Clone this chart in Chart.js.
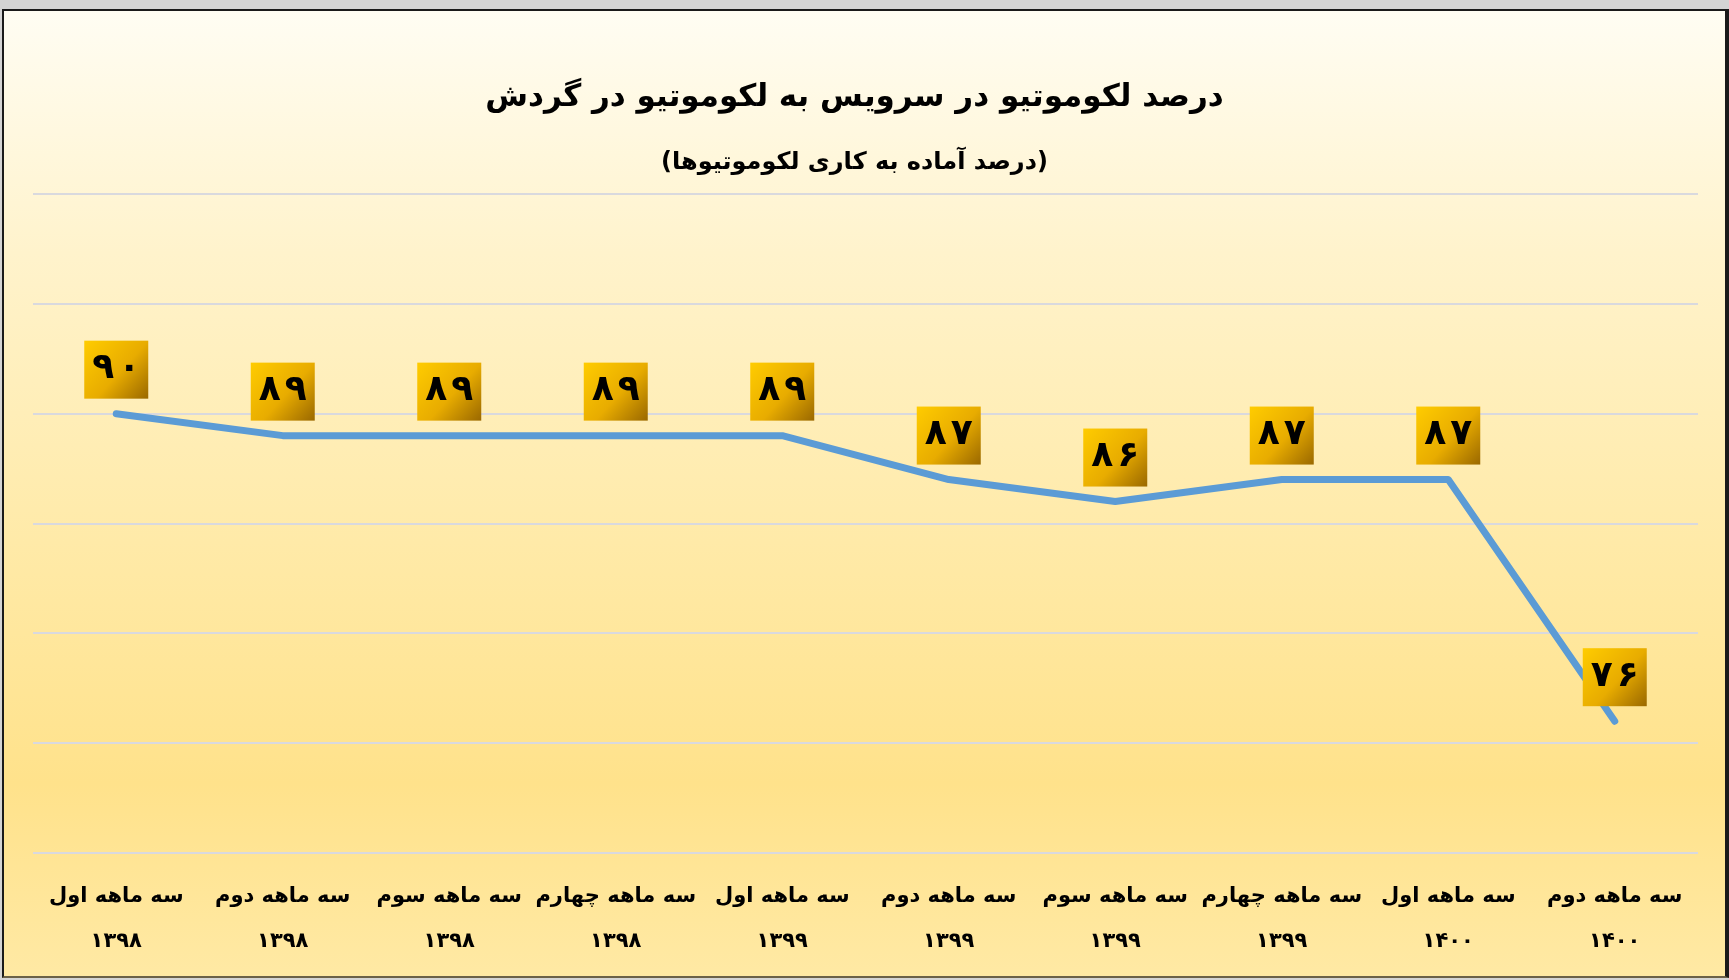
<!DOCTYPE html>
<html>
<head>
<meta charset="utf-8">
<script src="https://cdn.jsdelivr.net/npm/chart.js@4"></script>
<style>
  html, body { margin: 0; padding: 0; background: #d4d4d4; overflow: hidden; }
  #frame {
    position: absolute; left: 2px; top: 9px; width: 1721px; height: 965px;
    border: 2px solid #1a1a1a; border-right-width: 4px; border-bottom-color: #6b6148;
    background: linear-gradient(to bottom, #fffdf3 0%, #fff3cc 25%, #ffeaa8 55%, #ffe28b 80%, #ffe9a4 100%);
  }
  #chart { position: absolute; left: 0; top: 0; }
</style>
</head>
<body>
<div id="frame"></div>
<canvas id="chart" width="1729" height="980"></canvas>
<script>
'use strict';

const title    = 'درصد لکوموتیو در سرویس به لکوموتیو در گردش';
const subtitle = '(درصد آماده به کاری لکوموتیوها)';
const quarters = ['سه ماهه اول', 'سه ماهه دوم', 'سه ماهه سوم', 'سه ماهه چهارم', 'سه ماهه اول',
                  'سه ماهه دوم', 'سه ماهه سوم', 'سه ماهه چهارم', 'سه ماهه اول', 'سه ماهه دوم'];
const years    = ['۱۳۹۸', '۱۳۹۸', '۱۳۹۸', '۱۳۹۸', '۱۳۹۹', '۱۳۹۹', '۱۳۹۹', '۱۳۹۹', '۱۴۰۰', '۱۴۰۰'];
const readiness = [90, 89, 89, 89, 89, 87, 86, 87, 87, 76];
const yTicks   = [70, 75, 80, 85, 90, 95, 100];

const FONT = "'DejaVu Sans'";

const toFa = n => String(n).replace(/\d/g, d => '۰۱۲۳۴۵۶۷۸۹'[d]);

const valueBoxes = {
  id: 'valueBoxes',
  afterDatasetsDraw(chart) {
    const ctx = chart.ctx;
    chart.getDatasetMeta(0).data.forEach((pt, i) => {
      const w = 64, h = 58;
      const x = pt.x - w / 2, y = pt.y - 15 - h;
      const g = ctx.createLinearGradient(x, y, x + w, y + h);
      g.addColorStop(0, '#ffcc00');
      g.addColorStop(0.55, '#e8ac00');
      g.addColorStop(1, '#9a6800');
      ctx.save();
      ctx.fillStyle = g;
      ctx.fillRect(x, y, w, h);
      ctx.fillStyle = '#000';
      ctx.font = `bold 36px ${FONT}`;
      ctx.textAlign = 'center';
      ctx.textBaseline = 'middle';
      const digits = toFa(readiness[i]).split('');
      digits.forEach((d, k) => ctx.fillText(d, pt.x + (k - (digits.length - 1) / 2) * 26, y + h / 2 - 1));
      ctx.restore();
    });
  }
};

new Chart(document.getElementById('chart'), {
  type: 'line',
  data: {
    labels: quarters.map((q, i) => [q, years[i]]),
    datasets: [{
      data: readiness,
      borderColor: '#5b9bd5',
      borderWidth: 7,
      borderCapStyle: 'round',
      borderJoinStyle: 'round',
      pointRadius: 0,
      tension: 0,
      clip: false
    }]
  },
  options: {
    responsive: false,
    animation: false,
    layout: { padding: { left: 0, right: 20, top: 0, bottom: -5 } },
    plugins: {
      legend: { display: false },
      tooltip: { enabled: false },
      title: {
        display: true, text: title, color: '#000',
        font: { family: FONT, size: 31, weight: 'bold', lineHeight: 1.2 },
        padding: { top: 79, bottom: 0 }
      },
      subtitle: {
        display: true, text: subtitle, color: '#000',
        font: { family: FONT, size: 24, weight: 'bold', lineHeight: 1.2 },
        padding: { top: 32, bottom: 17 }
      }
    },
    scales: {
      x: {
        offset: true,
        grid: { display: false, drawTicks: false },
        border: { display: false },
        ticks: {
          color: '#000', padding: 21, maxRotation: 0, autoSkip: false,
          font: { family: FONT, size: 21, weight: 'bold', lineHeight: 45 / 21 }
        }
      },
      y: {
        min: yTicks[0], max: yTicks[yTicks.length - 1],
        afterFit: s => { s.width = 33; },
        ticks: { display: false, stepSize: yTicks[1] - yTicks[0] },
        grid: { color: '#d9d9de', lineWidth: 2, drawTicks: false },
        border: { display: false }
      },
      yRight: {
        position: 'right',
        afterFit: s => { s.width = 11; },
        ticks: { display: false },
        grid: { display: false, drawTicks: false },
        border: { display: false }
      }
    }
  },
  plugins: [valueBoxes]
});
</script>
</body>
</html>
